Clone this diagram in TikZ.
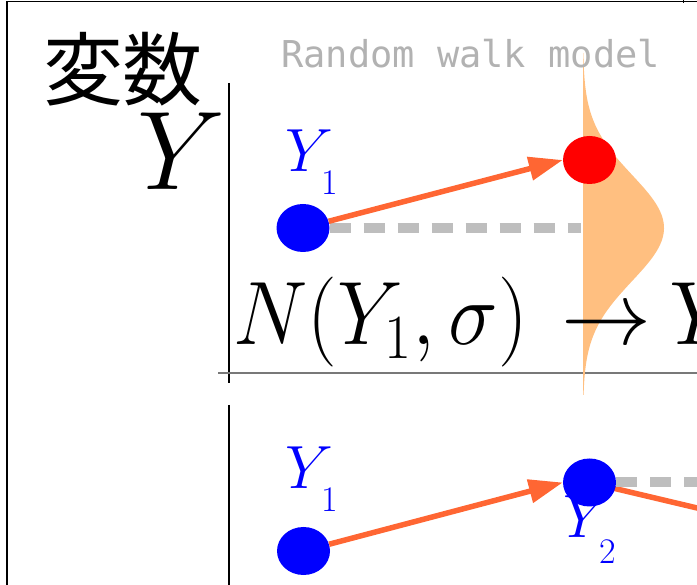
\RequirePackage{fix-cm}
\documentclass[tikz,border=0pt]{standalone}
\usepackage{fontspec}
\usepackage{graphicx}
\newfontfamily\cjk{Noto Sans CJK JP}
\setmonofont{DejaVu Sans Mono}
\usetikzlibrary{arrows.meta,shapes.geometric}
\definecolor{peach}{RGB}{255,191,128}
\definecolor{walk}{RGB}{255,102,51}
\definecolor{dashgray}{RGB}{190,190,190}
\definecolor{titlegray}{RGB}{178,178,178}
\definecolor{axisgray}{RGB}{120,120,120}
\newcommand\ylabel[2]{{\fontsize{61}{61}\selectfont$Y$\kern-12pt\raisebox{-#2pt}{\fontsize{36}{36}\selectfont #1}}}
\tikzset{
  dot/.style={ellipse, minimum width=53pt, minimum height=48pt, inner sep=0pt, draw=none},
  walkarrow/.style={draw=walk, line width=5.5pt, -{Triangle[length=34pt,width=23pt,fill=walk]}},
  walkline/.style={draw=walk, line width=5.5pt},
  prevline/.style={draw=dashgray, line width=10pt, dash pattern=on 21pt off 13pt},
  lab/.style={text=blue, inner sep=0pt, anchor=base west},
  frameline/.style={line width=1.3pt, black}
}
\begin{document}
\begin{tikzpicture}[x=1pt,y=-1pt]
\useasboundingbox (0,0) rectangle (697,585);
\clip (0,0) rectangle (697,585);
% frame
\coordinate (ftl) at (7,1.5);
\coordinate (ftr) at (697,1.5);
\coordinate (fbl) at (7,585);
\draw[frameline] (fbl) -- (ftl) -- (ftr);
\coordinate (tk1) at (683,0);
\coordinate (tk2) at (683,3);
\draw[line width=1pt] (tk1) -- (tk2);
% axes
\coordinate (ax1) at (229,83);
\coordinate (ax2) at (229,383);
\coordinate (ax3) at (229,405);
\coordinate (ax4) at (229,585);
\coordinate (hx1) at (218,373);
\coordinate (hx2) at (697,373);
\draw[line width=1.2pt, black] (ax1) -- (ax2);
\draw[line width=1.2pt, black] (ax3) -- (ax4);
\draw[line width=1.2pt, axisgray] (hx1) -- (hx2);
% distribution
\fill[peach] (583,53) -- plot[domain=-3.3:3.15, samples=120] ({583+81*exp(-0.5*\x*\x)},{228+53*\x}) -- (583,395) -- cycle;
% titles
\node[font=\cjk\fontsize{80}{80}\selectfont, inner sep=0pt] (var) at (123,69) {変数};
\node[font=\fontsize{112}{112}\selectfont, inner sep=0pt, anchor=base] (yv) at (181,190) {$Y$};
\node[anchor=base west, text=titlegray, inner sep=0pt, font=\fontsize{37}{37}\selectfont\ttfamily] (title) at (281,68) {Random walk model};
% upper panel
\node[dot, fill=blue] (b1) at (303,228) {};
\node[lab] (l1) at (285,172) {\ylabel{1}{23}};
\coordinate (dend) at (581,228);
\draw[prevline] (b1.east) -- (dend);
\node[dot, fill=red] (r1) at (589.5,160) {};
\draw[walkarrow] (b1) -- (r1.west);
\node[anchor=base west, inner sep=0pt, font=\fontsize{90}{90}\selectfont] (form) at (233,345) {\scalebox{0.93}[1]{$N(Y_1,\sigma)$}\hspace{33pt}$\rightarrow$\hspace{18pt}$Y$};
% lower panel
\node[lab] (l2) at (285,489) {\ylabel{1}{23}};
\node[lab] (l3) at (563,538) {\ylabel{2}{25}};
\node[dot, fill=blue] (b2) at (303.5,551) {};
\coordinate (y2c) at (589.5,482.5);
\coordinate (nxt) at (790,530);
\coordinate (dend2) at (760,482.5);
\draw[walkline] (y2c) -- (nxt);
\node[dot, fill=blue] (y2) at (y2c) {};
\draw[prevline] (y2.east) -- (dend2);
\draw[walkarrow] (b2) -- (y2.west);
\end{tikzpicture}
\end{document}
